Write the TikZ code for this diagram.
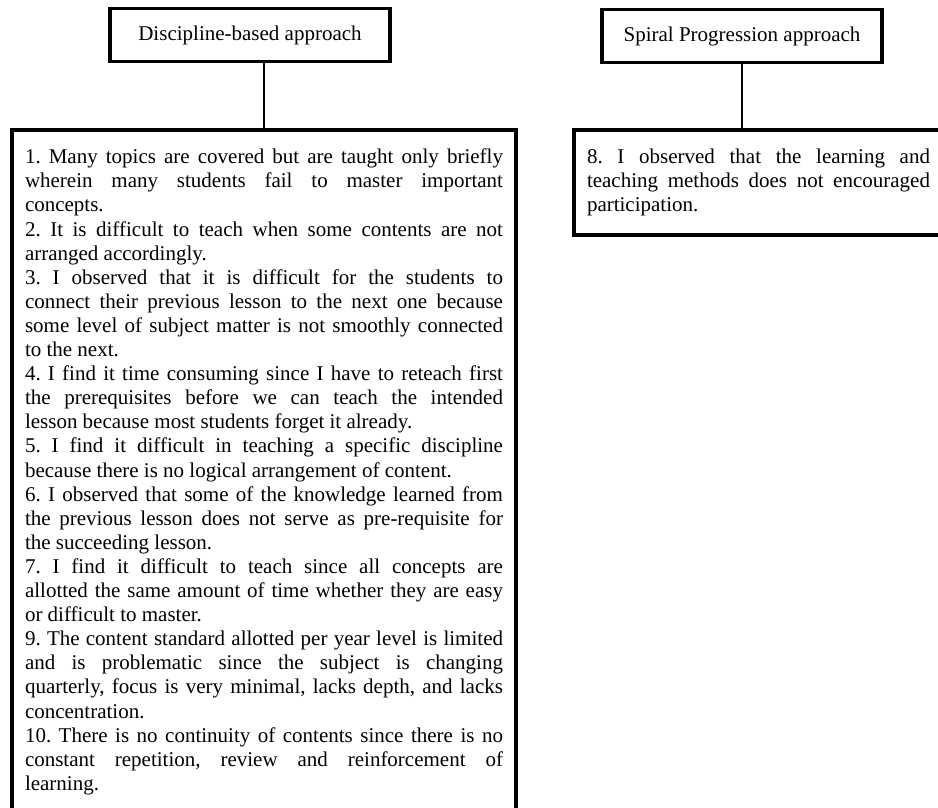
\documentclass[tikz,border=0pt]{standalone}
\usepackage{fontspec}
\setmainfont{Liberation Serif}
\hyphenpenalty=10000
\tolerance=9000
\frenchspacing

\begin{document}
\begin{tikzpicture}[x=1pt,y=-1pt,
    titlebox/.style={draw,line width=3.5pt,outer sep=0pt,minimum width=280pt,minimum height=53pt,font=\fontsize{21}{24}\selectfont},
    listbox/.style={draw,line width=3.5pt,outer sep=0pt,anchor=north west,inner xsep=13pt,inner ysep=19pt,font=\fontsize{21}{24.1}\selectfont}]
    \clip (0,0) rectangle (938,807);
    \fill[white] (0,0) rectangle (938,807);
    % titles
    \node[titlebox] (disc) at (250,35) {Discipline-based approach};
    \node[titlebox] (spiral) at (742,36) {Spiral Progression approach};
    % lists (the left one runs off the page at the bottom, the right one at the right)
    \node[listbox] (disclist) at (12,130) {\parbox[t][720pt][t]{478pt}{%
      1. Many topics are covered but are taught only briefly\linebreak wherein many students fail to master important\linebreak concepts.\par
      2. It is difficult to teach when some contents are not\linebreak arranged accordingly.\par
      3. I observed that it is difficult for the students to\linebreak connect their previous lesson to the next one because\linebreak some level of subject matter is not smoothly connected\linebreak to the next.\par
      4. I find it time consuming since I have to reteach first\linebreak the prerequisites before we can teach the intended\linebreak lesson because most students forget it already.\par
      5. I find it difficult in teaching a specific discipline\linebreak because there is no logical arrangement of content.\par
      6. I observed that some of the knowledge learned from\linebreak the previous lesson does not serve as pre-requisite for\linebreak the succeeding lesson.\par
      7. I find it difficult to teach since all concepts are\linebreak allotted the same amount of time whether they are easy\linebreak or difficult to master.\par
      9. The content standard allotted per year level is limited\linebreak and is problematic since the subject is changing\linebreak quarterly, focus is very minimal, lacks depth, and lacks\linebreak concentration.\par
      10. There is no continuity of contents since there is no\linebreak constant repetition, review and reinforcement of\linebreak learning.}};
    \node[listbox] (spirallist) at (574,130) {\parbox[t]{343pt}{%
      8. I observed that the learning and\linebreak teaching methods does not encouraged\linebreak participation.}};
    % connectors
    \draw[line width=2.5pt] (disclist.north) -- (disclist.north |- disc.south);
    \draw[line width=2.5pt] (spiral.south) -- (spiral.south |- spirallist.north);
\end{tikzpicture}
\end{document}
